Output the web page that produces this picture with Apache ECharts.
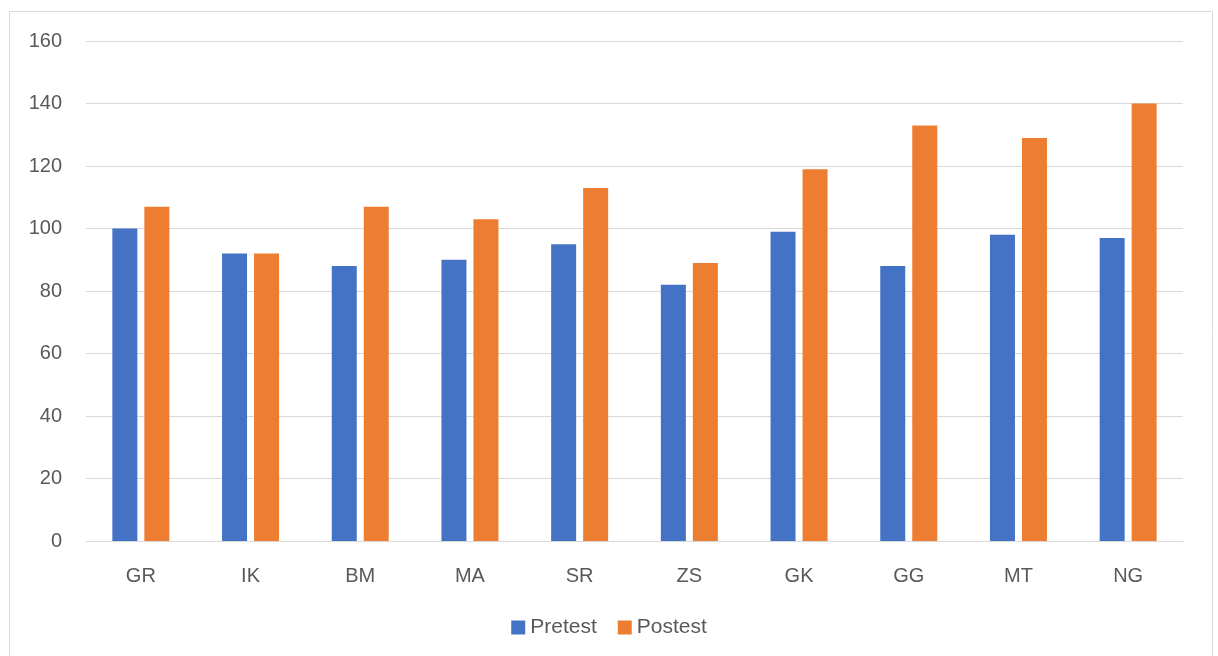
<!DOCTYPE html>
<html>
<head>
<meta charset="utf-8">
<script src="https://cdn.jsdelivr.net/npm/echarts@6/dist/echarts.min.js"></script>
<style>
  html, body { margin: 0; padding: 0; background: #fff; }
  #chart { width: 1218px; height: 656px; }
</style>
</head>
<body>
<div id="chart"></div>
<script>
// Scores per participant, before and after
const categories = ['GR', 'IK', 'BM', 'MA', 'SR', 'ZS', 'GK', 'GG', 'MT', 'NG'];
const pretest = [100, 92, 88, 90, 95, 82, 99, 88, 98, 97];
const postest = [107, 92, 107, 103, 113, 89, 119, 133, 129, 140];
const seriesNames = ['Pretest', 'Postest'];

const textColor = '#595959';
const fontFamily = 'Liberation Sans, Arial, sans-serif';

const chart = echarts.init(document.getElementById('chart'), null, { renderer: 'canvas' });
chart.setOption({
  animation: false,
  textStyle: { fontFamily: fontFamily },
  graphic: [{
    type: 'rect',
    shape: { x: 9.5, y: 11.5, width: 1203, height: 660 },
    style: { fill: 'none', stroke: '#d9d9d9', lineWidth: 1 },
    silent: true
  }],
  grid: { left: 86, right: 35, top: 41, bottom: 115, containLabel: false },
  legend: {
    data: seriesNames,
    bottom: 13,
    left: 'center',
    itemWidth: 14,
    itemHeight: 14,
    itemGap: 21,
    icon: 'rect',
    textStyle: { color: textColor, fontSize: 21, fontFamily: fontFamily }
  },
  xAxis: {
    type: 'category',
    data: categories,
    axisLine: { lineStyle: { color: '#d9d9d9', width: 1 } },
    axisTick: { show: false },
    axisLabel: { color: textColor, fontSize: 20, margin: 25, fontFamily: fontFamily }
  },
  yAxis: {
    type: 'value',
    min: 0,
    max: 160,
    interval: 20,
    axisLine: { show: false },
    axisTick: { show: false },
    splitLine: { lineStyle: { color: '#d9d9d9', width: 1 } },
    axisLabel: { color: textColor, fontSize: 20, margin: 24, fontFamily: fontFamily }
  },
  series: [
    {
      name: seriesNames[0],
      type: 'bar',
      data: pretest,
      barWidth: 25,
      barGap: '28%',
      itemStyle: { color: '#4472c4' }
    },
    {
      name: seriesNames[1],
      type: 'bar',
      data: postest,
      barWidth: 25,
      itemStyle: { color: '#ed7d31' }
    }
  ]
});
</script>
</body>
</html>
